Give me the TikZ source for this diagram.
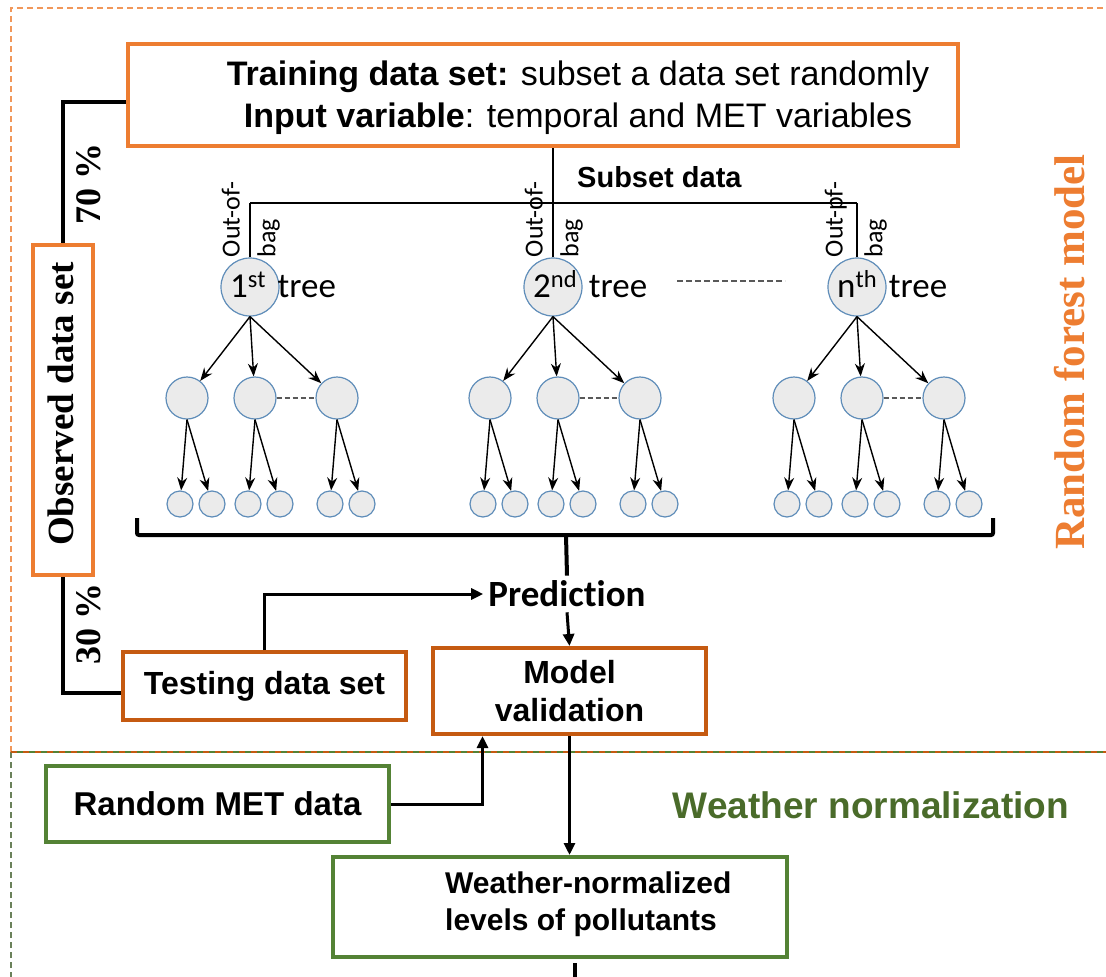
\documentclass[tikz,border=0pt]{standalone}
\usepackage{fontspec}
\setmainfont{Liberation Sans}
\newfontfamily\calibri[Ligatures=NoCommon]{Carlito}
\newfontfamily\serifface{Liberation Serif}
\usetikzlibrary{arrows.meta,positioning}
\definecolor{rforange}{HTML}{ED7D31}
\definecolor{rfbrown}{HTML}{C55A11}
\definecolor{rfgreen}{HTML}{548235}
\definecolor{rfdkgreen}{HTML}{4A6B2A}
\definecolor{nodefill}{HTML}{EBEBEB}
\definecolor{nodeline}{HTML}{5F8DB9}
\begin{document}
\begin{tikzpicture}[x=1pt,y=-1pt,
    obox/.style={draw=rforange,line width=4pt,inner sep=0pt},
    dbox/.style={draw=rfbrown,line width=4pt,inner sep=0pt},
    gbox/.style={draw=rfgreen,line width=4pt,inner sep=0pt},
    boxtext/.style={font=\bfseries\fontsize{32}{38}\selectfont},
    vlabel/.style={rotate=90,inner sep=0pt,font=\serifface\bfseries\fontsize{37}{44}\selectfont},
    link/.style={line width=4pt},
    flow/.style={line width=3pt,-{Triangle[length=12pt,width=11pt]}},
    root/.style={circle,draw=nodeline,fill=nodefill,line width=1.2pt,minimum size=58pt,inner sep=0pt},
    kid/.style={root,minimum size=42pt},
    leaf/.style={root,minimum size=26pt},
    branch/.style={line width=1.4pt,-{Stealth[length=13pt,width=10pt]}},
    oob/.style={rotate=90,inner sep=0pt,font=\calibri\fontsize{26}{30}\selectfont},
    treelabel/.style={inner sep=0pt,font=\calibri\fontsize{35}{40}\selectfont}]
\useasboundingbox (0,0) rectangle (1106,977);

% frame of the two parts
\draw[rforange!80,line width=1.2pt,dash pattern=on 6pt off 4pt] (11,752) -- (11,8) -- (1106,8);
\draw[rfgreen!50!gray,line width=1.2pt,dash pattern=on 6pt off 4pt] (11,752) -- (11,977);
\draw[rfbrown,line width=1.5pt,dash pattern=on 6pt off 6pt] (11,752) -- (1106,752);
\draw[rfgreen,line width=1.5pt,dash pattern=on 6pt off 6pt,dash phase=6pt] (11,752) -- (1106,752);

% random forest part
\node[obox,minimum width=830pt,minimum height=102pt] (train) at (543,95) {};
\node[anchor=base,font=\fontsize{34}{40}\selectfont] (trainA) at (578,85) {\textbf{Training data set:} subset a data set randomly};
\node[anchor=base,font=\fontsize{34}{40}\selectfont] (trainB) at (578,127) {\textbf{Input variable}: temporal and MET variables};
\node[obox,minimum width=60pt,minimum height=330pt] (obs) at (63,410) {};
\node[vlabel] (obstext) at (61,404) {Observed data set};
\node[vlabel,font=\serifface\bfseries\fontsize{36}{44}\selectfont] (p70) at (89,184) {70 \%};
\node[vlabel,font=\serifface\bfseries\fontsize{36}{44}\selectfont] (p30) at (89,624) {30 \%};
\node[dbox,boxtext,minimum width=283pt,minimum height=68pt] (test) at (264.5,686) {Testing data set};
\node[anchor=base west,inner sep=0pt,font=\bfseries\fontsize{29}{34}\selectfont] (subset) at (577,187) {Subset data};
\node[inner sep=5pt,font=\calibri\bfseries\fontsize{37}{44}\selectfont] (pred) at (567,594) {Prediction};
\node[dbox,boxtext,align=center,minimum width=273pt,minimum height=86pt] (model) at (569.5,691) {Model\\validation};
\node[vlabel,text=rforange,font=\serifface\bfseries\fontsize{43}{50}\selectfont] (rfm) at (1070,352) {Random forest model};

\draw[link] ([yshift=-7pt]train.west) -| (obs.north);
\draw[link] (obs.south) |- ([yshift=-7pt]test.west);
\draw[flow] (test.north) |- (pred.west);

% the trees
\coordinate (bar) at (553,203);
\foreach \tr/\x/\num/\oof in {1/250/{1\textsuperscript{st}}/Out-of-,2/553/{2\textsuperscript{nd}}/Out-of-,3/857/{n\textsuperscript{th}}/Out-pf-}{
  \node[root] (r\tr) at (\x,287) {};
  \node[treelabel,anchor=base west] (lbl\tr) at ({\x-20},297) {\num\,\,tree};
  \node[oob,anchor=south west] (oof\tr) at ([xshift=-10pt]r\tr.north) {\oof};
  \node[oob,anchor=north west] (bag\tr) at ([xshift=7pt]r\tr.north) {bag};
  \draw[line width=1.3pt] (r\tr.north) -- (r\tr.north |- bar);
  \foreach \c/\dx in {a/-63,b/5,c/87}{
    \node[kid] (k\tr\c) at ({\x+\dx},398) {};
    \draw[branch] (r\tr.south) -- (k\tr\c);
    \node[leaf] (f\tr\c1) at ({\x+\dx-7},504) {};
    \node[leaf] (f\tr\c2) at ({\x+\dx+25},504) {};
    \draw[branch] (k\tr\c.south) -- (f\tr\c1);
    \draw[branch] (k\tr\c.south) -- (f\tr\c2);
  }
  \draw[gray!70!black,line width=1.2pt,dash pattern=on 5pt off 3pt] (k\tr b.east) -- (k\tr c.west);
}
\draw[line width=2.5pt] (r1.north |- bar) -- (r3.north |- bar);
\draw[line width=1.3pt] (train.south -| r2.north) -- (bar -| r2.north);
\coordinate (dotsa) at (677,281);
\coordinate (dotsb) at (785,281);
\draw[gray!70!black,line width=1.2pt,dash pattern=on 6pt off 3pt] (dotsa) -- (dotsb);

% bracket over all trees
\coordinate (brL) at (137,518);
\coordinate (brR) at (993,518);
\coordinate (brace) at (566,535);
\draw[link,rounded corners=2pt] (brL) -- (brL |- brace) -- (brR |- brace) -- (brR);
\draw[link] (brace) -- (pred.north);
\draw[flow] (pred.south) -- (model.north);

% weather normalization part
\node[gbox,boxtext,font=\bfseries\fontsize{33}{38}\selectfont,minimum width=343pt,minimum height=76pt] (met) at (217.5,804) {Random MET data};
\node[gbox,minimum width=454pt,minimum height=100pt] (norm) at (560,907) {};
\node[anchor=west,inner sep=0pt,align=left,font=\bfseries\fontsize{30}{37}\selectfont] (normtext) at (445,904) {Weather-normalized\\levels of pollutants};
\node[text=rfdkgreen,font=\bfseries\fontsize{37}{44}\selectfont] (wn) at (871,805) {Weather normalization};
\draw[flow] (met.east) -| ([xshift=-87pt]model.south);
\draw[flow] (model.south) -- (model.south |- norm.north);
\coordinate (outA) at (575,963);
\coordinate (outB) at (575,977);
\draw[link] (outA) -- (outB);
\end{tikzpicture}
\end{document}
